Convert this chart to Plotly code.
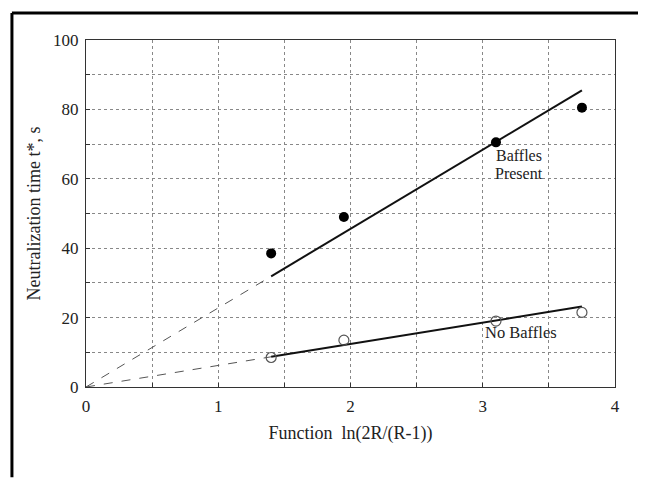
import plotly.graph_objects as go

# Data
x_vals = [1.4, 1.95, 3.1, 3.75]
baffles_y = [38.5, 49.0, 70.5, 80.5]
no_baffles_y = [8.5, 13.5, 19.0, 21.5]

# Fit lines (through origin): dashed extrapolation then solid fit
baffles_fit_x = [0, 1.4, 3.75]
baffles_fit_y = [0, 31.9, 85.5]
no_baffles_fit_x = [0, 1.4, 3.75]
no_baffles_fit_y = [0, 8.7, 23.2]

x_tickvals = [0, 0.5, 1, 1.5, 2, 2.5, 3, 3.5, 4]
x_ticktext = ["0", "", "1", "", "2", "", "3", "", "4"]
y_tickvals = [0, 10, 20, 30, 40, 50, 60, 70, 80, 90, 100]
y_ticktext = ["0", "", "20", "", "40", "", "60", "", "80", "", "100"]

FONT = "Liberation Serif, Times New Roman, serif"
TXT = "#222222"

fig = go.Figure()

for fx, fy in [(baffles_fit_x, baffles_fit_y), (no_baffles_fit_x, no_baffles_fit_y)]:
    fig.add_trace(go.Scatter(x=fx[:2], y=fy[:2], mode="lines",
                             line=dict(color="#555555", width=1, dash="dash"),
                             showlegend=False, hoverinfo="skip"))
    fig.add_trace(go.Scatter(x=fx[1:], y=fy[1:], mode="lines",
                             line=dict(color="#111111", width=2),
                             showlegend=False))

fig.add_trace(go.Scatter(x=x_vals, y=baffles_y, mode="markers",
                         marker=dict(symbol="circle", size=10, color="black"),
                         name="Baffles Present", showlegend=False))
fig.add_trace(go.Scatter(x=x_vals, y=no_baffles_y, mode="markers",
                         marker=dict(symbol="circle-open", size=10, color="#555555",
                                     line=dict(width=1.2)),
                         name="No Baffles", showlegend=False))

axis_common = dict(
    showgrid=True, gridcolor="#888888", griddash="dot", gridwidth=1,
    showline=True, linecolor="#333333", linewidth=1, mirror=True,
    ticks="inside", ticklen=4, tickcolor="#333333",
    tickfont=dict(family=FONT, size=17, color=TXT),
    zeroline=False,
)

fig.update_layout(
    width=638, height=470,
    margin=dict(l=78, r=31, t=32, b=91),
    paper_bgcolor="white", plot_bgcolor="white",
    font=dict(family=FONT, color=TXT),
    xaxis=dict(range=[0, 4], tickvals=x_tickvals, ticktext=x_ticktext,
               ticklabelstandoff=4,
               title=dict(text="Function  ln(2R/(R-1))", font=dict(family=FONT, size=18),
                          standoff=10),
               **axis_common),
    yaxis=dict(range=[0, 100], tickvals=y_tickvals, ticktext=y_ticktext,
               ticklabelstandoff=3,
               title=dict(text="Neutralization time t*, s", font=dict(family=FONT, size=18),
                          standoff=7),
               **axis_common),
    annotations=[
        dict(x=3.085, y=66.6, xref="x", yref="y", text="Baffles",
             showarrow=False, xanchor="left", yanchor="middle",
             font=dict(family=FONT, size=16, color=TXT)),
        dict(x=3.08, y=61.4, xref="x", yref="y", text="Present",
             showarrow=False, xanchor="left", yanchor="middle",
             font=dict(family=FONT, size=16, color=TXT)),
        dict(x=3.0, y=15.6, xref="x", yref="y", text="No Baffles",
             showarrow=False, xanchor="left", yanchor="middle",
             font=dict(family=FONT, size=16.5, color=TXT)),
    ],
    shapes=[
        dict(type="line", xref="paper", yref="paper", x0=-0.14, x1=1.058, y0=1.078, y1=1.078,
             line=dict(color="black", width=3)),
        dict(type="line", xref="paper", yref="paper", x0=-0.14, x1=-0.14, y0=1.078, y1=-0.26,
             line=dict(color="black", width=3)),
    ],
)

fig.write_html("out.html")
